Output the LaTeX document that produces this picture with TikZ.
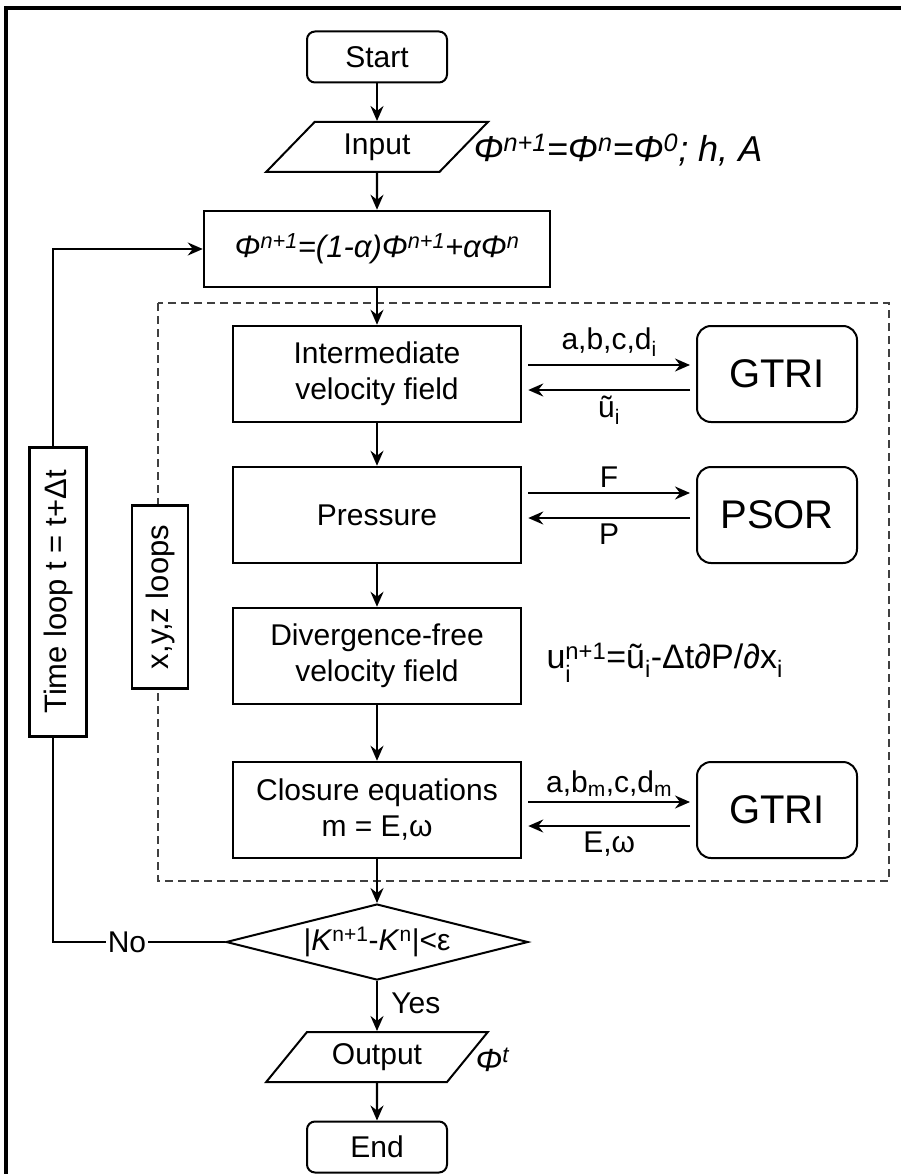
\documentclass[tikz,border=0pt]{standalone}
\usepackage{fontspec}
\setmainfont{Liberation Sans}
\usetikzlibrary{shapes.geometric,arrows.meta}

\tikzset{
  box/.style={draw, line width=2.5pt, minimum width=288, minimum height=96, align=center, inner sep=0},
  term/.style={draw, rounded corners=8pt, line width=2pt, minimum width=140, minimum height=51},
  io/.style={draw, trapezium, trapezium left angle=46, trapezium right angle=134, trapezium stretches=true, line width=2pt, minimum width=222, minimum height=50, inner sep=0},
  solver/.style={draw, rounded corners=14pt, line width=2pt, minimum width=160, minimum height=96, font=\fontsize{40}{44}\selectfont},
  decision/.style={draw, diamond, aspect=4, line width=2pt, minimum width=302, minimum height=76, inner sep=0},
  loopbox/.style={draw, fill=white, line width=2.5pt, rotate=90, inner sep=0},
  arr/.style={line width=2.2pt, -{Stealth[length=15pt,width=13pt,inset=5pt]}},
  link/.style={arr, shorten <=6pt, shorten >=6pt}
}

\begin{document}
\begin{tikzpicture}[x=1pt, y=-1pt, font=\fontsize{30}{36}\selectfont]
  \useasboundingbox (0,0) rectangle (901,1174);
  % frame
  \draw[line width=3.5pt] (6,1174) -- (6,8) -- (901,8);
  % inner loop region
  \draw[line width=1.5pt, black!75, dash pattern=on 8pt off 5pt] (158,303) rectangle (889,881);

  % main column
  \node[term] (start) at (377,57) {Start};
  \node[io] (input) at (377,147) {Input};
  \node[anchor=west] (inlabel) at (470,150) {\fontsize{36}{38}\selectfont\textit{Φ\textsuperscript{n+1}=Φ\textsuperscript{n}=Φ\textsuperscript{0}; h, A}};
  \node[box, minimum width=346, minimum height=76] (update) at (377,249) {\fontsize{31}{36}\selectfont\textit{Φ\textsuperscript{n+1}=(1-α)Φ\textsuperscript{n+1}+αΦ\textsuperscript{n}}};
  \node[box] (inter) at (377,374) {Intermediate\\velocity field};
  \node[box] (press) at (377,515) {Pressure};
  \node[box] (diverg) at (377,656) {Divergence-free\\velocity field};
  \node[anchor=west] (divlabel) at (543,663) {\fontsize{34}{36}\selectfont u\rlap{\raisebox{-5pt}{\textsubscript{i}}}\textsuperscript{n+1}=ũ\textsubscript{i}-Δt∂P/∂x\textsubscript{i}};
  \node[box] (closure) at (377,810) {Closure equations\\m = E,ω};
  \node[decision] (check) at (377,942) {|\textit{K}\textsuperscript{n+1}-\textit{K}\textsuperscript{n}|<ε};
  \node[io] (output) at (377,1057) {Output};
  \node[anchor=west] (outlabel) at (472,1060) {\fontsize{32}{36}\selectfont\textit{Φ\textsuperscript{t}}};
  \node[term] (stop) at (377,1147) {End};

  % solvers
  \node[solver] (gtria) at (777,374) {GTRI};
  \node[solver] (psor) at (777,515) {PSOR};
  \node[solver] (gtrib) at (777,810) {GTRI};

  % loop boxes
  \node[loopbox, minimum width=289, minimum height=57, font=\fontsize{31}{36}\selectfont] (timeloop) at (58,592) {Time loop t = t+Δt};
  \node[loopbox, minimum width=183, minimum height=56, font=\fontsize{31}{36}\selectfont] (xyzloop) at (160,597) {x,y,z loops};

  % flow
  \draw[arr] (start) -- (input);
  \draw[arr] (input) -- (update);
  \draw[arr] (update) -- (inter);
  \draw[arr] (inter) -- (press);
  \draw[arr] (press) -- (diverg);
  \draw[arr] (diverg) -- (closure);
  \draw[arr] (closure) -- (check);
  \draw[arr] (check) -- node[right=10pt, pos=0.45]{Yes} (output);
  \draw[arr] (output) -- (stop);

  % solver links
  \draw[link] ([yshift=9]inter.east) -- node[above=4pt]{a,b,c,d\textsubscript{i}} ([yshift=9]gtria.west);
  \draw[link] ([yshift=-16]gtria.west) -- node[below=2pt]{ũ\textsubscript{i}} ([yshift=-16]inter.east);
  \draw[link] ([yshift=22]press.east) -- node[above=1pt]{F} ([yshift=22]psor.west);
  \draw[link] ([yshift=-3]psor.west) -- node[below=1pt]{P} ([yshift=-3]press.east);
  \draw[link] ([yshift=8]closure.east) -- node[above=1pt]{a,b\textsubscript{m},c,d\textsubscript{m}} ([yshift=8]gtrib.west);
  \draw[link] ([yshift=-16]gtrib.west) -- node[below=1pt]{E,ω} ([yshift=-16]closure.east);

  % time loop
  \coordinate (nocorner) at (53,942);
  \draw[line width=2pt] (check.west) -- node[pos=0.57, fill=white, inner sep=2pt]{No} (nocorner) -- (nocorner |- timeloop.west);
  \draw[arr] (nocorner |- timeloop.east) |- (update.west);
\end{tikzpicture}
\end{document}
